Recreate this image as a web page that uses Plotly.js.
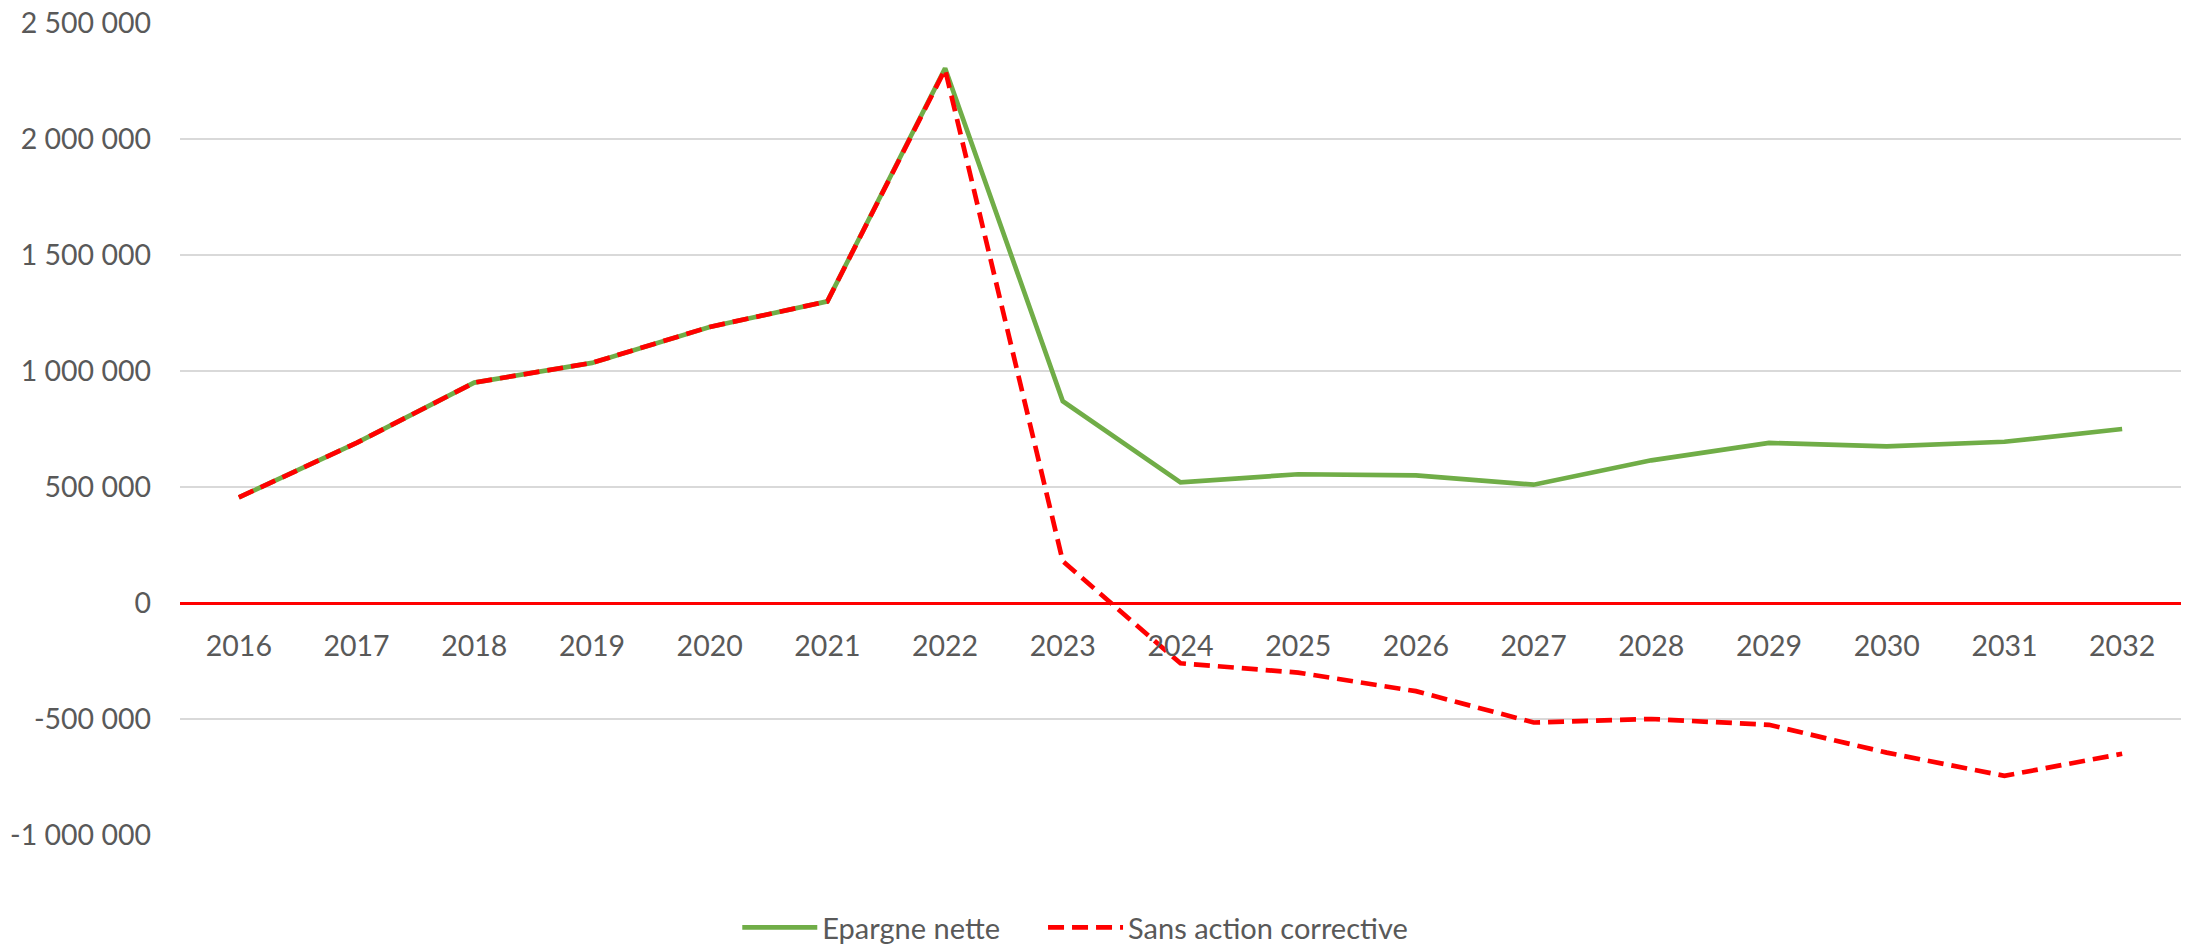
<!DOCTYPE html>
<html>
<head>
<meta charset="utf-8">
<script src="https://cdn.plot.ly/plotly-3.0.1.min.js"></script>
<style>
  html, body { margin: 0; padding: 0; background: #ffffff; }
  #chart { width: 2189px; height: 945px; }
</style>
</head>
<body>
<div id="chart"></div>
<script>
const years = ["2016","2017","2018","2019","2020","2021","2022","2023","2024","2025","2026","2027","2028","2029","2030","2031","2032"];
const epargneNette = [455000, 690000, 950000, 1035000, 1190000, 1300000, 2305000, 870000, 520000, 555000, 550000, 510000, 615000, 690000, 675000, 695000, 750000];
const sansActionCorrective = [455000, 690000, 950000, 1035000, 1190000, 1300000, 2300000, 180000, -260000, -300000, -380000, -515000, -500000, -525000, -645000, -745000, -650000];
const yTickVals = [-1000000, -500000, 0, 500000, 1000000, 1500000, 2000000, 2500000];
const yTickLabels = ["-1 000 000", "-500 000", "0", "500 000", "1 000 000", "1 500 000", "2 000 000", "2 500 000"];
const seriesNames = ["Epargne nette", "Sans action corrective"];

const textColor = "#595959";
const fontFamily = "Lato, 'Open Sans', 'Liberation Sans', sans-serif";

const traces = [
  {
    type: "scatter", mode: "lines", name: seriesNames[0],
    x: years, y: epargneNette, legend: "legend",
    line: { color: "#70AD47", width: 4.7 },
    hoverinfo: "skip"
  },
  {
    type: "scatter", mode: "lines", name: seriesNames[1],
    x: years, y: sansActionCorrective, legend: "legend2",
    line: { color: "#FF0000", width: 4.7, dash: "16px,8px" },
    hoverinfo: "skip"
  }
];

const legendBase = {
  orientation: "h", xanchor: "left", y: -0.114, yanchor: "middle",
  font: { family: fontFamily, size: 29, color: textColor },
  itemwidth: 75, bgcolor: "rgba(0,0,0,0)"
};

const layout = {
  width: 2189, height: 945,
  margin: { l: 180, r: 8, t: 23, b: 110, pad: 0, autoexpand: false },
  paper_bgcolor: "#ffffff", plot_bgcolor: "#ffffff",
  font: { family: fontFamily, size: 28.5, color: textColor },
  showlegend: true,
  legend: Object.assign({}, legendBase, { x: 0.2785 }),
  legend2: Object.assign({}, legendBase, { x: 0.4313 }),
  xaxis: {
    type: "category", range: [-0.5, 16.5],
    anchor: "free", position: 1 / 3.5,
    showgrid: false, showline: false, zeroline: false, ticks: "",
    ticklabelstandoff: 23,
    tickfont: { family: fontFamily, size: 28.5, color: textColor },
    fixedrange: true
  },
  yaxis: {
    range: [-1000000, 2500000],
    tickvals: yTickVals, ticktext: yTickLabels,
    showgrid: true, gridcolor: "#D9D9D9", gridwidth: 1.3,
    zeroline: true, zerolinecolor: "#FF0000", zerolinewidth: 3,
    showline: false, ticks: "",
    ticklabelstandoff: 28,
    tickfont: { family: fontFamily, size: 28.5, color: textColor },
    fixedrange: true
  }
};

Plotly.newPlot("chart", traces, layout, { staticPlot: true, displayModeBar: false });
</script>
</body>
</html>
